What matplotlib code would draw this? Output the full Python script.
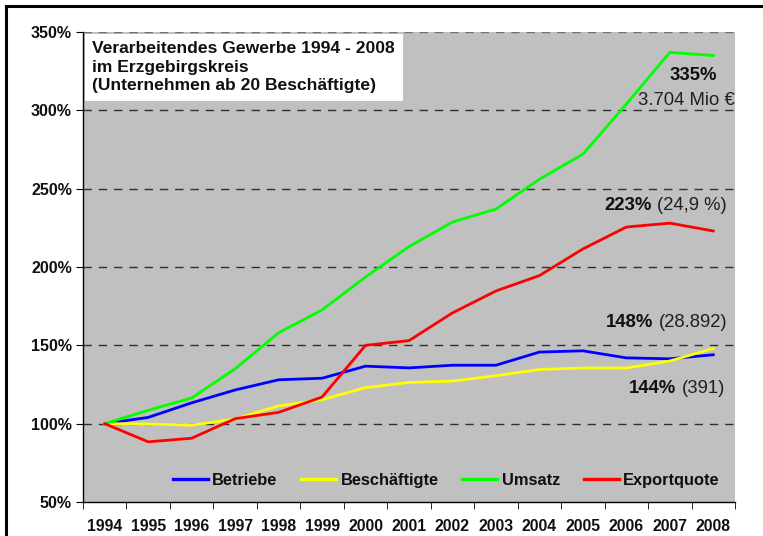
import matplotlib
matplotlib.use("Agg")
import matplotlib.pyplot as plt
import numpy as np
from matplotlib.lines import Line2D

plt.rcParams['font.family'] = ['Liberation Sans', 'DejaVu Sans']

years = ["1994", "1995", "1996", "1997", "1998", "1999", "2000", "2001",
         "2002", "2003", "2004", "2005", "2006", "2007", "2008"]
betriebe = [100, 104, 113.3, 121.5, 128, 129, 136.7, 135.6, 137.3, 137.3,
            145.7, 146.5, 142, 141.4, 144]
beschaeftigte = [100, 99.8, 99, 103, 111.3, 115.3, 123, 126.3, 127.2, 130.6,
                 134.6, 135.5, 135.5, 140, 148]
umsatz = [100, 108.5, 116.4, 135, 158, 172.6, 193.6, 213, 228.7, 237,
          256, 272, 304, 337, 335]
exportquote = [100, 88.4, 90.7, 103.2, 107.2, 117, 150, 153, 170.7, 184.7,
               194.5, 211.5, 225.5, 228, 223]
series_names = ["Betriebe", "Beschäftigte", "Umsatz", "Exportquote"]
series_colors = ["#0000FF", "#FFFF00", "#00FF00", "#FF0000"]
y_ticks = [50, 100, 150, 200, 250, 300, 350]
title_text = "Verarbeitendes Gewerbe 1994 - 2008\nim Erzgebirgskreis\n(Unternehmen ab 20 Beschäftigte)"

fig = plt.figure(figsize=(7.63, 5.36), dpi=100)
fig.patch.set_facecolor("white")
ax = fig.add_axes([83/763, 1 - 502/536, (735-83)/763, (502-32)/536])
ax.set_facecolor("#C0C0C0")

x = np.arange(len(years))
for vals, name, col in zip([betriebe, beschaeftigte, umsatz, exportquote],
                           series_names, series_colors):
    ax.plot(x, vals, color=col, lw=2.0, label=name, zorder=3)

ax.set_xlim(-0.5, len(years) - 0.5)
ax.set_ylim(50, 350)
ax.set_yticks(y_ticks)
ax.set_yticklabels([f"{v}%" for v in y_ticks], fontweight="bold", fontsize=11.5,
                   color="#101010")
ax.set_xticks(x)
ax.set_xticklabels(years, fontweight="bold", fontsize=11.3, color="#101010")
ax.set_xticks(np.arange(-0.5, len(years), 1), minor=True)
ax.tick_params(axis="x", which="major", length=0, pad=12)
ax.tick_params(axis="x", which="minor", length=5, direction="out")
ax.tick_params(axis="y", length=5, direction="out", pad=3)

for v in y_ticks[1:]:
    ax.axhline(v, color="#303030" if v < 350 else "#707070", lw=1,
               ls=(0, (6, 5)), zorder=1)

for s in ["top", "right"]:
    ax.spines[s].set_visible(False)
for s in ["left", "bottom"]:
    ax.spines[s].set_color("black")
    ax.spines[s].set_linewidth(1)

# title box
ax.text(0.0145, 0.98, title_text, transform=ax.transAxes, ha="left", va="top",
        fontsize=12.6, fontweight="bold", linespacing=1.27, zorder=5, color="#101010",
        bbox=dict(facecolor="white", edgecolor="none", boxstyle="square,pad=0.45"))

# annotations
FS = 13.3


def label(xd, yd, bold, normal):
    t = ax.text(xd, yd, bold, ha="left", va="center", fontsize=FS,
                fontweight="bold", color="#101010", zorder=5)
    if normal:
        ax.annotate(normal, xy=(1, 0.5), xycoords=t, xytext=(4, 0),
                    textcoords="offset points", ha="left", va="center",
                    fontsize=FS, color="#202020", zorder=5)


ax.text(13.53, 322, "335%", ha="center", va="center", fontsize=FS,
        fontweight="bold", color="#101010", zorder=5)
ax.text(14.5, 306.5, "3.704 Mio €", ha="right", va="center", fontsize=FS,
        color="#202020", zorder=5)
label(11.49, 239, "223%", "(24,9 %)")
label(11.53, 164.3, "148%", "(28.892)")
label(12.06, 122.3, "144%", "(391)")

leg = ax.legend(loc="center", bbox_to_anchor=(0.557, 0.046), ncol=4,
                frameon=False, prop=dict(weight="bold", size=11.8),
                handlelength=2.15, handletextpad=0.25, columnspacing=1.45,
                labelcolor="#101010")
for h in leg.legend_handles:
    h.set_linewidth(2.4)

# figure border (top and left visible)
fig.add_artist(Line2D([6/763, 6/763], [0, 1 - 6/536], color="black", lw=2.2,
                      transform=fig.transFigure))
fig.add_artist(Line2D([6/763, 1], [1 - 6/536, 1 - 6/536], color="black", lw=2.2,
                      transform=fig.transFigure))

fig.savefig("out.png", dpi=100)
